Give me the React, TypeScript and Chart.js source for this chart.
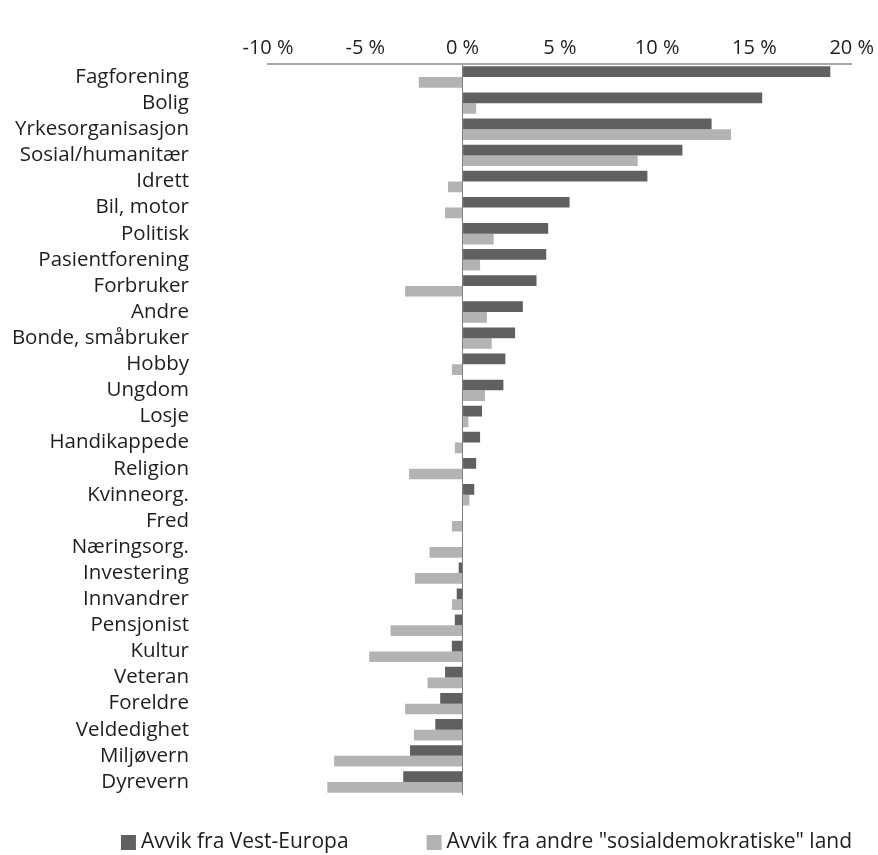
import React, { useEffect, useRef } from "react";
import { Chart, registerables } from "chart.js";

Chart.register(...registerables);

const categories = [
  "Fagforening", "Bolig", "Yrkesorganisasjon", "Sosial/humanitær", "Idrett",
  "Bil, motor", "Politisk", "Pasientforening", "Forbruker", "Andre",
  "Bonde, småbruker", "Hobby", "Ungdom", "Losje", "Handikappede",
  "Religion", "Kvinneorg.", "Fred", "Næringsorg.", "Investering",
  "Innvandrer", "Pensjonist", "Kultur", "Veteran", "Foreldre",
  "Veldedighet", "Miljøvern", "Dyrevern",
];

const vestEuropa = [
  18.9, 15.4, 12.8, 11.3, 9.5, 5.5, 4.4, 4.3, 3.8, 3.1,
  2.7, 2.2, 2.1, 1.0, 0.9, 0.7, 0.6, 0, 0, -0.2,
  -0.3, -0.4, -0.55, -0.9, -1.15, -1.4, -2.7, -3.05,
];

const sosialdemokratiske = [
  -2.25, 0.7, 13.8, 9.0, -0.75, -0.9, 1.6, 0.9, -2.95, 1.25,
  1.5, -0.55, 1.15, 0.3, -0.4, -2.75, 0.35, -0.55, -1.7, -2.45,
  -0.55, -3.7, -4.8, -1.8, -2.95, -2.5, -6.6, -6.95,
];

const seriesNames = ["Avvik fra Vest-Europa", 'Avvik fra andre "sosialdemokratiske" land'];
const seriesColors = ["#606060", "#b3b3b3"];
const xMin = -10;
const xMax = 20;
const xStep = 5;

const FONT = "'Open Sans', 'Noto Sans', sans-serif";
const TEXT = "#1e1e1e";

const bottomLegend = {
  id: "bottomLegend",
  afterDraw(chart: any) {
    const ctx = chart.ctx as CanvasRenderingContext2D;
    const fontSize = 21;
    const box = 15;
    const boxGap = 5;
    const itemGap = 78;
    const centerX = 486.5;
    const boxTop = chart.height - 20;
    ctx.save();
    ctx.font = `${fontSize}px ${FONT}`;
    const items = chart.data.datasets.map((ds: any) => ({
      text: ds.label as string,
      color: ds.backgroundColor as string,
      w: ctx.measureText(ds.label).width,
    }));
    const total =
      items.reduce((s: number, it: any) => s + box + boxGap + it.w, 0) + itemGap * (items.length - 1);
    let x = centerX - total / 2;
    ctx.textBaseline = "middle";
    ctx.textAlign = "left";
    for (const it of items) {
      ctx.fillStyle = it.color;
      ctx.fillRect(x, boxTop, box, box);
      ctx.fillStyle = TEXT;
      ctx.fillText(it.text, x + box + boxGap, boxTop + box / 2);
      x += box + boxGap + it.w + itemGap;
    }
    ctx.restore();
  },
};

export default function App() {
  const ref = useRef<HTMLCanvasElement | null>(null);

  useEffect(() => {
    if (!ref.current) return;
    const chart = new Chart(ref.current, {
      type: "bar",
      data: {
        labels: categories,
        datasets: [
          {
            label: seriesNames[0],
            data: vestEuropa,
            backgroundColor: seriesColors[0],
            categoryPercentage: 0.82,
            barPercentage: 1.0,
          },
          {
            label: seriesNames[1],
            data: sosialdemokratiske,
            backgroundColor: seriesColors[1],
            categoryPercentage: 0.82,
            barPercentage: 1.0,
          },
        ],
      },
      options: {
        indexAxis: "y",
        animation: false,
        responsive: false,
        maintainAspectRatio: false,
        layout: { padding: { left: 0, right: 0, top: 32, bottom: 60 } },
        scales: {
          x: {
            position: "top",
            min: xMin,
            max: xMax,
            ticks: {
              stepSize: xStep,
              padding: 4,
              color: TEXT,
              font: { family: FONT, size: 20 },
              callback: (v: any) => `${v} %`,
            },
            grid: {
              drawTicks: false,
              lineWidth: 1,
              color: (ctx: any) => (ctx.tick && ctx.tick.value === 0 ? "#7f7f7f" : "rgba(0,0,0,0)"),
            },
            border: { display: true, color: "#a6a6a6", width: 2 },
          },
          y: {
            afterFit: (s: any) => {
              s.width = 268;
            },
            ticks: {
              padding: 6,
              color: TEXT,
              font: { family: FONT, size: 20.5 },
              autoSkip: false,
            },
            grid: { display: false, drawTicks: true, tickLength: 73 },
            border: { display: false },
          },
        },
        plugins: {
          legend: { display: false },
          tooltip: { enabled: false },
        },
      },
      plugins: [bottomLegend],
    });
    return () => chart.destroy();
  }, []);

  return (
    <div style={{ position: "absolute", left: 0, top: 0, width: 878, height: 855, background: "#fff" }}>
      <canvas ref={ref} width={878} height={855} style={{ width: 878, height: 855 }} />
    </div>
  );
}
